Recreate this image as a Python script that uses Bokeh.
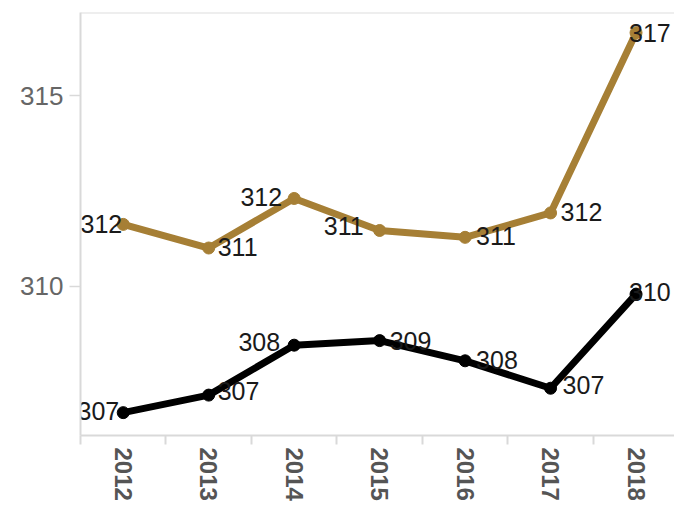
from bokeh.plotting import figure
from bokeh.models import (ColumnDataSource, Range1d, FixedTicker, LinearAxis, Span)
from bokeh.core.properties import value
from bokeh.embed import file_html
from bokeh.resources import INLINE

# ---- data ----
years = ["2012", "2013", "2014", "2015", "2016", "2017", "2018"]
gold_values = [311.62, 311.0, 312.30, 311.46, 311.28, 311.92, 316.65]
black_values = [306.68, 307.14, 308.45, 308.57, 308.04, 307.32, 309.79]
y_ticks = [310, 315]

# ---- label styling (per point) ----
gold_align = ["right", "left", "right", "right", "left", "left", "left"]
gold_dx = [-1, 9, -12, -16, 11, 10, -7]
gold_dy = [0, -1, -1, -4, -1, -1, 0]
black_align = ["right", "left", "right", "left", "left", "left", "left"]
black_dx = [-4, 9, -14, 10, 11, 12, -7]
black_dy = [-2, -4, -3, 0, -1, -3, -2]

GOLD = "#A67F35"
BLACK = "#000000"
AXIS = "#d9d9d9"

xpos = [i + 0.5 for i in range(len(years))]

p = figure(width=674, height=503, output_backend="svg", toolbar_location=None,
           x_range=Range1d(0, 6.95), y_range=Range1d(306.08, 317.18),
           x_axis_type=None, y_axis_type=None,
           min_border_left=80, min_border_right=0, min_border_top=12, min_border_bottom=64)
p.outline_line_color = None
p.grid.visible = False
p.background_fill_color = "white"
p.border_fill_color = "white"

# y axis
yax = LinearAxis(ticker=FixedTicker(ticks=y_ticks, minor_ticks=[]))
yax.axis_line_color = AXIS
yax.axis_line_width = 2
yax.major_tick_line_color = AXIS
yax.major_tick_line_width = 1.5
yax.major_tick_out = 11
yax.major_tick_in = 0
yax.minor_tick_line_color = None
yax.major_label_standoff = 6
yax.major_label_text_font = "Liberation Sans"
yax.major_label_text_font_size = "26px"
yax.major_label_text_color = "#666666"
p.add_layout(yax, "left")

# x axis: labels at centers, boundary ticks as minor ticks
xax = LinearAxis(ticker=FixedTicker(ticks=xpos, minor_ticks=list(range(len(years) + 1))))
xax.major_label_overrides = {x: y for x, y in zip(xpos, years)}
xax.axis_line_color = AXIS
xax.axis_line_width = 2
xax.major_tick_line_color = None
xax.major_tick_out = 8
xax.major_tick_in = 0
xax.minor_tick_line_color = AXIS
xax.minor_tick_line_width = 2
xax.minor_tick_out = 9
xax.minor_tick_in = 0
xax.major_label_orientation = "vertical"
xax.major_label_standoff = 3
xax.major_label_text_font = "Liberation Sans"
xax.major_label_text_font_style = "bold"
xax.major_label_text_font_size = "24px"
xax.major_label_text_color = "#555555"
p.add_layout(xax, "below")

# top border
p.add_layout(Span(location=317.18, dimension="width", line_color="#dedede", line_width=2))

def series(vals, color, align, dx, dy):
    src = ColumnDataSource(dict(x=xpos, y=vals, lab=[str(round(v)) for v in vals],
                                align=align, dx=dx, dy=dy))
    p.line("x", "y", source=src, line_color=color, line_width=7, line_join="round")
    p.scatter("x", "y", source=src, size=12, fill_color=color, line_color=color)
    p.text("x", "y", text="lab", source=src, text_align="align", x_offset="dx", y_offset="dy",
           text_baseline="middle", text_font=value("Liberation Sans"),
           text_font_size="25px", text_color="#1a1a1a")

series(gold_values, GOLD, gold_align, gold_dx, gold_dy)
series(black_values, BLACK, black_align, black_dx, black_dy)

open("out.html", "w").write(file_html(p, INLINE))
